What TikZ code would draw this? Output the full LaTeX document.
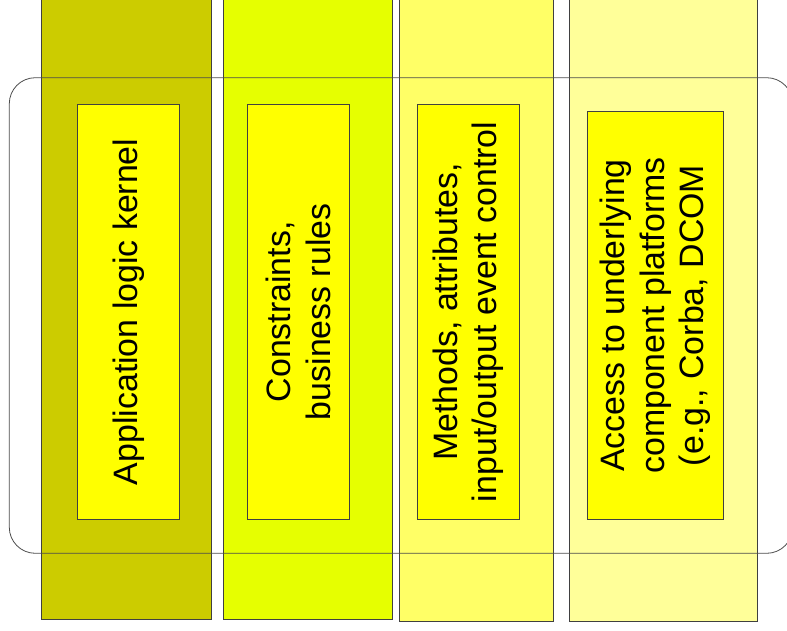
\documentclass[tikz,border=0pt]{standalone}
\usepackage{fontspec}
\setmainfont{Liberation Sans}
\definecolor{kernelcol}{HTML}{CCCC00}
\definecolor{rulecol}{HTML}{E6FF00}
\definecolor{methodcol}{HTML}{FFFF66}
\definecolor{accesscol}{HTML}{FFFF99}
\definecolor{boxcol}{HTML}{FFFF00}
\begin{document}
\begin{tikzpicture}[x=1bp,y=-1bp,
    column/.style={draw=black!75,line width=0.8bp,inner sep=0pt,anchor=south west,minimum height=630bp},
    frame/.style={draw=black!70,line width=0.8bp,rounded corners=26bp},
    part/.style={draw=black!75,fill=boxcol,line width=0.8bp,inner sep=0pt,rotate=90,align=center,
      minimum width=415bp,minimum height=102bp,font=\fontsize{34}{40}\selectfont}]
  \useasboundingbox (0,0) rectangle (787,631);
  \clip (0,0) rectangle (787,631);
  % layers
  \node[column,fill=kernelcol,minimum width=170bp] (c1) at (40.7,619.3) {};
  \node[column,fill=rulecol,minimum width=169.6bp] (c2) at (222.7,619.3) {};
  \node[column,fill=methodcol,minimum width=153.7bp] (c3) at (399.3,621.3) {};
  \node[column,fill=accesscol,minimum width=188bp] (c4) at (569.3,621.3) {};
  % component frame
  \draw[frame] (9.3,77.7) rectangle (792.7,553.3);
  % parts
  \node[part] (kernel) at (128.3,311.8) {Application logic kernel};
  \node[part] (rules) at (298.3,311.8) {Constraints,\\business rules};
  \node[part] (methods) at (468.3,311.8) {Methods, attributes,\\input/output event control};
  \node[part,minimum width=407.6bp,minimum height=136bp] (access) at (655.3,315.5)
    {Access to underlying\\component platforms\\(e.g., Corba, DCOM};
\end{tikzpicture}
\end{document}
